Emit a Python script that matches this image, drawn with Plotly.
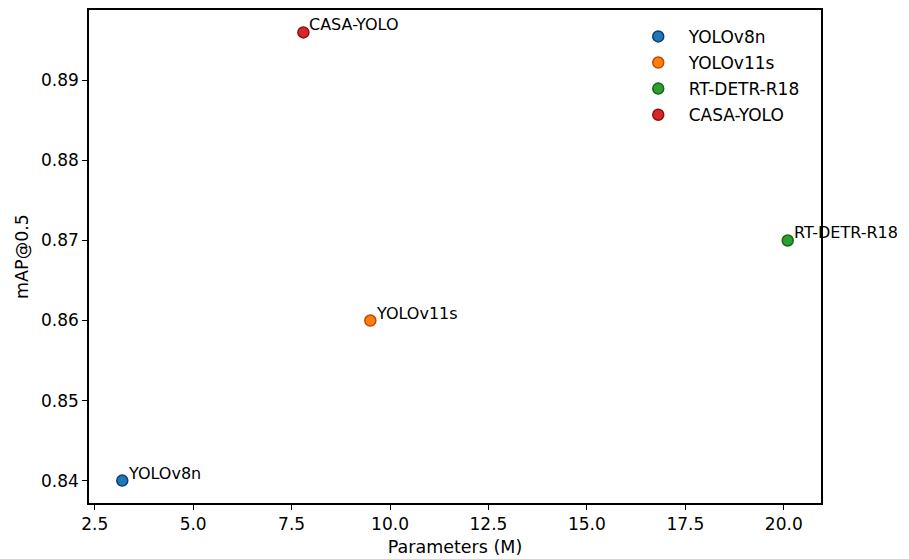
import plotly.graph_objects as go

models = ["YOLOv8n", "YOLOv11s", "RT-DETR-R18", "CASA-YOLO"]
params_m = [3.2, 9.5, 20.1, 7.8]
map50 = [0.84, 0.86, 0.87, 0.896]
fill_colors = ["#1f77b4", "#ff7f0e", "#2ca02c", "#d62728"]
edge_colors = ["#0b3d78", "#c04a00", "#17651a", "#8f1010"]
x_ticks = [2.5, 5.0, 7.5, 10.0, 12.5, 15.0, 17.5, 20.0]
y_ticks = [0.84, 0.85, 0.86, 0.87, 0.88, 0.89]

FONT = "DejaVu Sans"

fig = go.Figure()
for name, x, y, fc, ec in zip(models, params_m, map50, fill_colors, edge_colors):
    fig.add_trace(go.Scatter(
        x=[x], y=[y], mode="markers", name=name, legendgroup=name,
        marker=dict(size=11, color=fc, line=dict(color=ec, width=1.5)),
    ))
    fig.add_annotation(
        x=x, y=y, text=name, showarrow=False,
        xanchor="left", yanchor="bottom", xshift=4, yshift=-4,
        font=dict(family=FONT, size=16, color="black"),
    )

xmin, xmax = min(params_m), max(params_m)
ymin, ymax = min(map50), max(map50)
xpad = (xmax - xmin) * 0.05
ypad = (ymax - ymin) * 0.05

axis_common = dict(
    showline=True, linecolor="black", linewidth=1.5, mirror=True,
    ticks="outside", ticklen=5, tickwidth=1.2, tickcolor="black",
    showgrid=False, zeroline=False, automargin=False,
    tickfont=dict(family=FONT, size=17, color="black"),
)

fig.update_xaxes(
    range=[xmin - xpad, xmax + xpad], tickvals=x_ticks,
    ticktext=[f"{v:.1f}" for v in x_ticks],
    title=dict(text="Parameters (M)", font=dict(family=FONT, size=17.5, color="black"), standoff=8),
    **axis_common,
)
fig.update_yaxes(
    range=[ymin - ypad, ymax + ypad], tickvals=y_ticks,
    ticktext=[f"{v:.2f}" for v in y_ticks],
    title=dict(text="mAP@0.5", font=dict(family=FONT, size=17.5, color="black"), standoff=8),
    **axis_common,
)

fig.update_layout(
    width=909, height=559,
    margin=dict(l=89, r=88, t=10, b=56),
    paper_bgcolor="white", plot_bgcolor="white",
    font=dict(family=FONT, color="black"),
    legend=dict(
        x=0.736, y=0.982, xanchor="left", yanchor="top",
        bgcolor="rgba(0,0,0,0)", borderwidth=0,
        font=dict(family=FONT, size=17, color="black"),
        tracegroupgap=1, itemwidth=51,
    ),
)

fig.write_html("out.html")
